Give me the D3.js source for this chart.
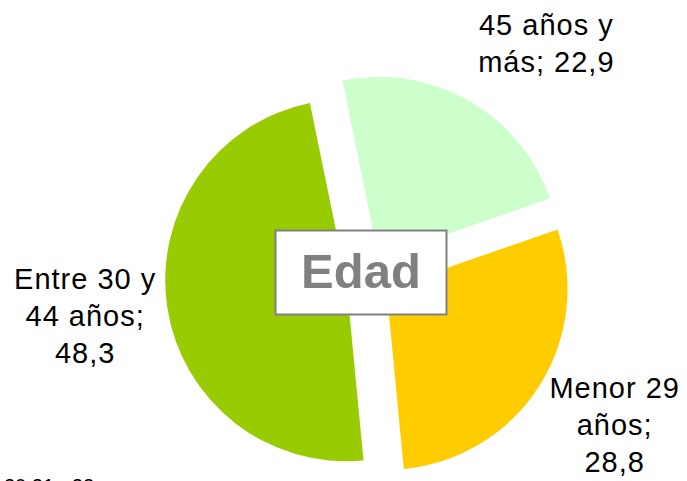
<!DOCTYPE html>
<html>
<head>
<meta charset="utf-8">
<script src="https://cdn.jsdelivr.net/npm/d3@7"></script>
<style>
    body { margin: 0; background: #fff; }
    svg { display: block; }
</style>
</head>
<body>
<div id="chart"></div>
<script>
// Edad - exploded pie chart

const categories = ['45 años y más', 'Menor 29 años', 'Entre 30 y 44 años'];
const values = [22.9, 28.8, 48.3];
const labelLines = [
    ['45 años y', 'más; 22,9'],
    ['Menor 29', 'años;', '28,8'],
    ['Entre 30 y', '44 años;', '48,3']
];
const colors = ['#CCFFCC', '#FFCC00', '#99CC00'];
const title = 'Edad';
const cutText = '20,21 - 22';

const width = 687;
const height = 481;
const cx = 368, cy = 277;
const radius = 181;
const explode = 22;
const labelRadius = 286;
const lineHeight = 37;
// Excel pushes the top label in from the edge
const labelNudge = [[37, 18], [6, -3], [0, 0]];

const svg = d3.select('#chart')
    .append('svg')
    .attr('width', width)
    .attr('height', height);

const pie = d3.pie()
    .sort(null)
    .startAngle(-11.6 * Math.PI / 180)
    .endAngle((360 - 11.6) * Math.PI / 180);

const arcs = pie(values);

const arc = d3.arc()
    .innerRadius(0)
    .outerRadius(radius);

const g = svg.append('g')
    .attr('transform', `translate(${cx},${cy})`);

// Slices, each pulled out along its middle angle
g.selectAll('.slice')
    .data(arcs)
    .enter()
    .append('path')
    .attr('class', 'slice')
    .attr('d', arc)
    .attr('fill', (d, i) => colors[i])
    .attr('transform', d => {
        const mid = (d.startAngle + d.endAngle) / 2;
        return `translate(${Math.sin(mid) * explode},${-Math.cos(mid) * explode})`;
    });

// Data labels
const labels = g.selectAll('.label')
    .data(arcs)
    .enter()
    .append('text')
    .attr('class', 'label')
    .attr('text-anchor', 'middle')
    .style('font-family', '"Liberation Sans", Arial, sans-serif')
    .style('font-size', '29px')
    .style('letter-spacing', '1px')
    .attr('fill', '#000');

labels.each(function(d, i) {
    const mid = (d.startAngle + d.endAngle) / 2;
    const x = Math.sin(mid) * labelRadius + labelNudge[i][0];
    const y = -Math.cos(mid) * labelRadius + labelNudge[i][1];
    const lines = labelLines[i];
    const top = y - (lines.length - 1) / 2 * lineHeight + 7;
    d3.select(this).selectAll('tspan')
        .data(lines)
        .enter()
        .append('tspan')
        .attr('x', x)
        .attr('y', (t, j) => top + j * lineHeight)
        .text(t => t);
});

// Title box in the middle
svg.append('rect')
    .attr('x', 275.5)
    .attr('y', 230.5)
    .attr('width', 171)
    .attr('height', 84)
    .attr('fill', '#fff')
    .attr('stroke', '#808080')
    .attr('stroke-width', 2);

svg.append('text')
    .attr('x', 361)
    .attr('y', 288)
    .attr('text-anchor', 'middle')
    .style('font-family', '"Liberation Sans", Arial, sans-serif')
    .style('font-size', '49px')
    .style('font-weight', 'bold')
    .attr('fill', '#808080')
    .text(title);

// Label cut off at the bottom edge
svg.append('text')
    .attr('x', 4)
    .attr('y', 493)
    .style('font-family', '"Liberation Sans", Arial, sans-serif')
    .style('font-size', '20px')
    .attr('fill', '#000')
    .text(cutText);
</script>
</body>
</html>
